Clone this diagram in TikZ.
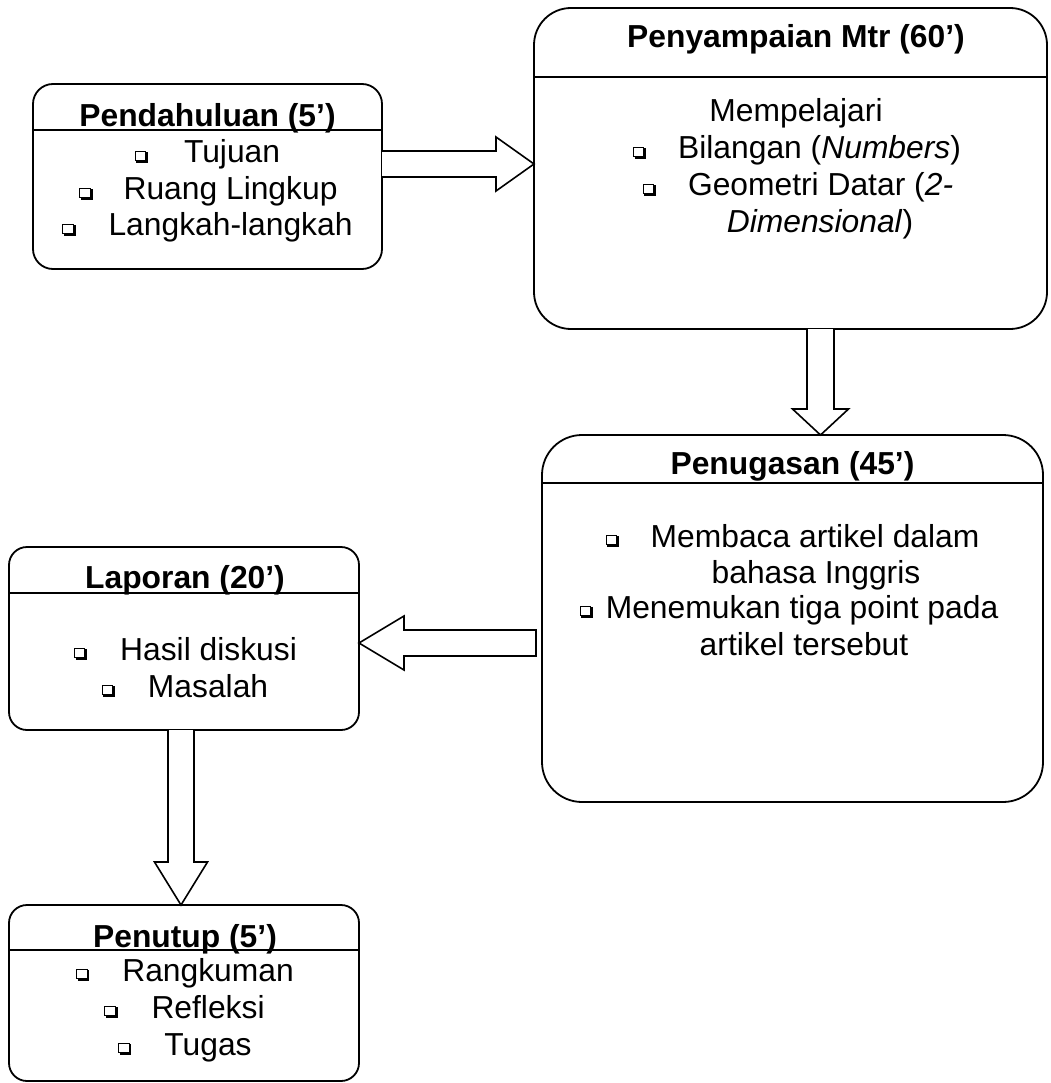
\documentclass[tikz,border=0pt]{standalone}
\usepackage{fontspec}
\setmainfont{Liberation Sans}
\usetikzlibrary{calc}
\newcommand{\qb}{\tikz[baseline=0pt,x=1pt,y=1pt]{\draw[line width=0.9pt] (0.5,2.6) rectangle (10.8,12); \draw[line width=1.9pt] (1.6,1) -- (12.2,1) -- (12.2,10.8);}}
\newcommand{\fs}{\fontsize{31.8}{38}\selectfont}
\begin{document}
\begin{tikzpicture}[x=1pt,y=-1pt,
  box/.style={draw, line width=1.8pt, inner sep=0pt, outer sep=0pt, anchor=north west},
  hdr/.style={line width=1.8pt},
  arr/.style={draw, line width=1.6pt, line join=miter, fill=white},
  ln/.style={anchor=base, inner sep=0pt, outer sep=0pt, font=\fs},
  ttl/.style={anchor=base, inner sep=0pt, outer sep=0pt, font=\fs\bfseries}]
\useasboundingbox (0,0) rectangle (1050,1083);

% boxes
\node[box, rounded corners=20pt, minimum width=349pt, minimum height=185pt] (pend) at (33,84) {};
\node[box, rounded corners=37pt, minimum width=513pt, minimum height=321pt] (peny) at (534,8) {};
\node[box, rounded corners=40pt, minimum width=501pt, minimum height=367pt] (penu) at (542,435) {};
\node[box, rounded corners=18pt, minimum width=350pt, minimum height=183pt] (lap) at (9,547) {};
\node[box, rounded corners=18pt, minimum width=350pt, minimum height=176pt] (put) at (9,905) {};

% header lines
\draw[hdr] ($(pend.north west)+(0,46)$) -- ($(pend.north east)+(0,46)$);
\draw[hdr] ($(peny.north west)+(0,69)$) -- ($(peny.north east)+(0,69)$);
\draw[hdr] ($(penu.north west)+(0,48)$) -- ($(penu.north east)+(0,48)$);
\draw[hdr] ($(lap.north west)+(0,46)$) -- ($(lap.north east)+(0,46)$);
\draw[hdr] ($(put.north west)+(0,45)$) -- ($(put.north east)+(0,45)$);

% Pendahuluan
\node[ttl] (pendT) at (207.5,127) {Pendahuluan (5’)};
\node[ln] (pend1) at (207.5,163) {\qb\hspace{36pt}Tujuan};
\node[ln] (pend2) at (208.5,200) {\qb\hspace{31pt}Ruang Lingkup};
\node[ln] (pend3) at (207.5,236) {\qb\hspace{33pt}Langkah-langkah};

% Penyampaian
\node[ttl] (penyT) at (796,48) {Penyampaian Mtr (60’)};
\node[ln] (peny1) at (796,122) {Mempelajari};
\node[ln] (peny2) at (797,159) {\qb\hspace{32pt}Bilangan (\textit{Numbers})};
\node[ln] (peny3) at (798,196) {\qb\hspace{32pt}Geometri Datar (\textit{2-}};
\node[ln] (peny4) at (820,233) {\textit{Dimensional})};

% Penugasan
\node[ttl] (penuT) at (792.5,474) {Penugasan (45’)};
\node[ln] (penu1) at (792.5,547) {\qb\hspace{32pt}Membaca artikel dalam};
\node[ln] (penu2) at (816,583) {bahasa Inggris};
\node[ln] (penu3) at (789,618) {\qb\hspace{13pt}Menemukan tiga point pada};
\node[ln] (penu4) at (804,655) {artikel tersebut};

% Laporan
\node[ttl] (lapT) at (185,588) {Laporan (20’)};
\node[ln] (lap1) at (185.5,660) {\qb\hspace{33pt}Hasil diskusi};
\node[ln] (lap2) at (185,697) {\qb\hspace{33pt}Masalah};

% Penutup
\node[ttl] (putT) at (185,947) {Penutup (5’)};
\node[ln] (put1) at (185,981) {\qb\hspace{33pt}Rangkuman};
\node[ln] (put2) at (184.5,1018) {\qb\hspace{34pt}Refleksi};
\node[ln] (put3) at (185,1055) {\qb\hspace{33pt}Tugas};

% block arrows
\coordinate (a1) at ($(pend.north east)+(0,80)$);
\coordinate (a1t) at (peny.west |- a1);
\draw[arr] ($(a1)+(0,-13)$) -- ($(a1t)+(-38,-13)$) -- ($(a1t)+(-38,-27)$) -- (a1t)
  -- ($(a1t)+(-38,27)$) -- ($(a1t)+(-38,13)$) -- ($(a1)+(0,13)$);

\coordinate (a2) at ($(peny.south west)+(286.5,0)$);
\coordinate (a2t) at (a2 |- penu.north);
\draw[arr] ($(a2)+(-13.5,0)$) -- ($(a2t)+(-13.5,-26)$) -- ($(a2t)+(-28,-26)$) -- (a2t)
  -- ($(a2t)+(28,-26)$) -- ($(a2t)+(13.5,-26)$) -- ($(a2)+(13.5,0)$);

\coordinate (a3) at ($(penu.north west)+(-6,208)$);
\coordinate (a3t) at (lap.east |- a3);
\draw[arr] ($(a3)+(0,-13)$) -- ($(a3t)+(45,-13)$) -- ($(a3t)+(45,-27)$) -- (a3t)
  -- ($(a3t)+(45,27)$) -- ($(a3t)+(45,13)$) -- ($(a3)+(0,13)$) -- cycle;

\coordinate (a4) at ($(lap.south west)+(172,0)$);
\coordinate (a4t) at (a4 |- put.north);
\draw[arr] ($(a4)+(-13,0)$) -- ($(a4t)+(-13,-43)$) -- ($(a4t)+(-26.5,-43)$) -- (a4t)
  -- ($(a4t)+(26.5,-43)$) -- ($(a4t)+(13,-43)$) -- ($(a4)+(13,0)$);
\end{tikzpicture}
\end{document}
